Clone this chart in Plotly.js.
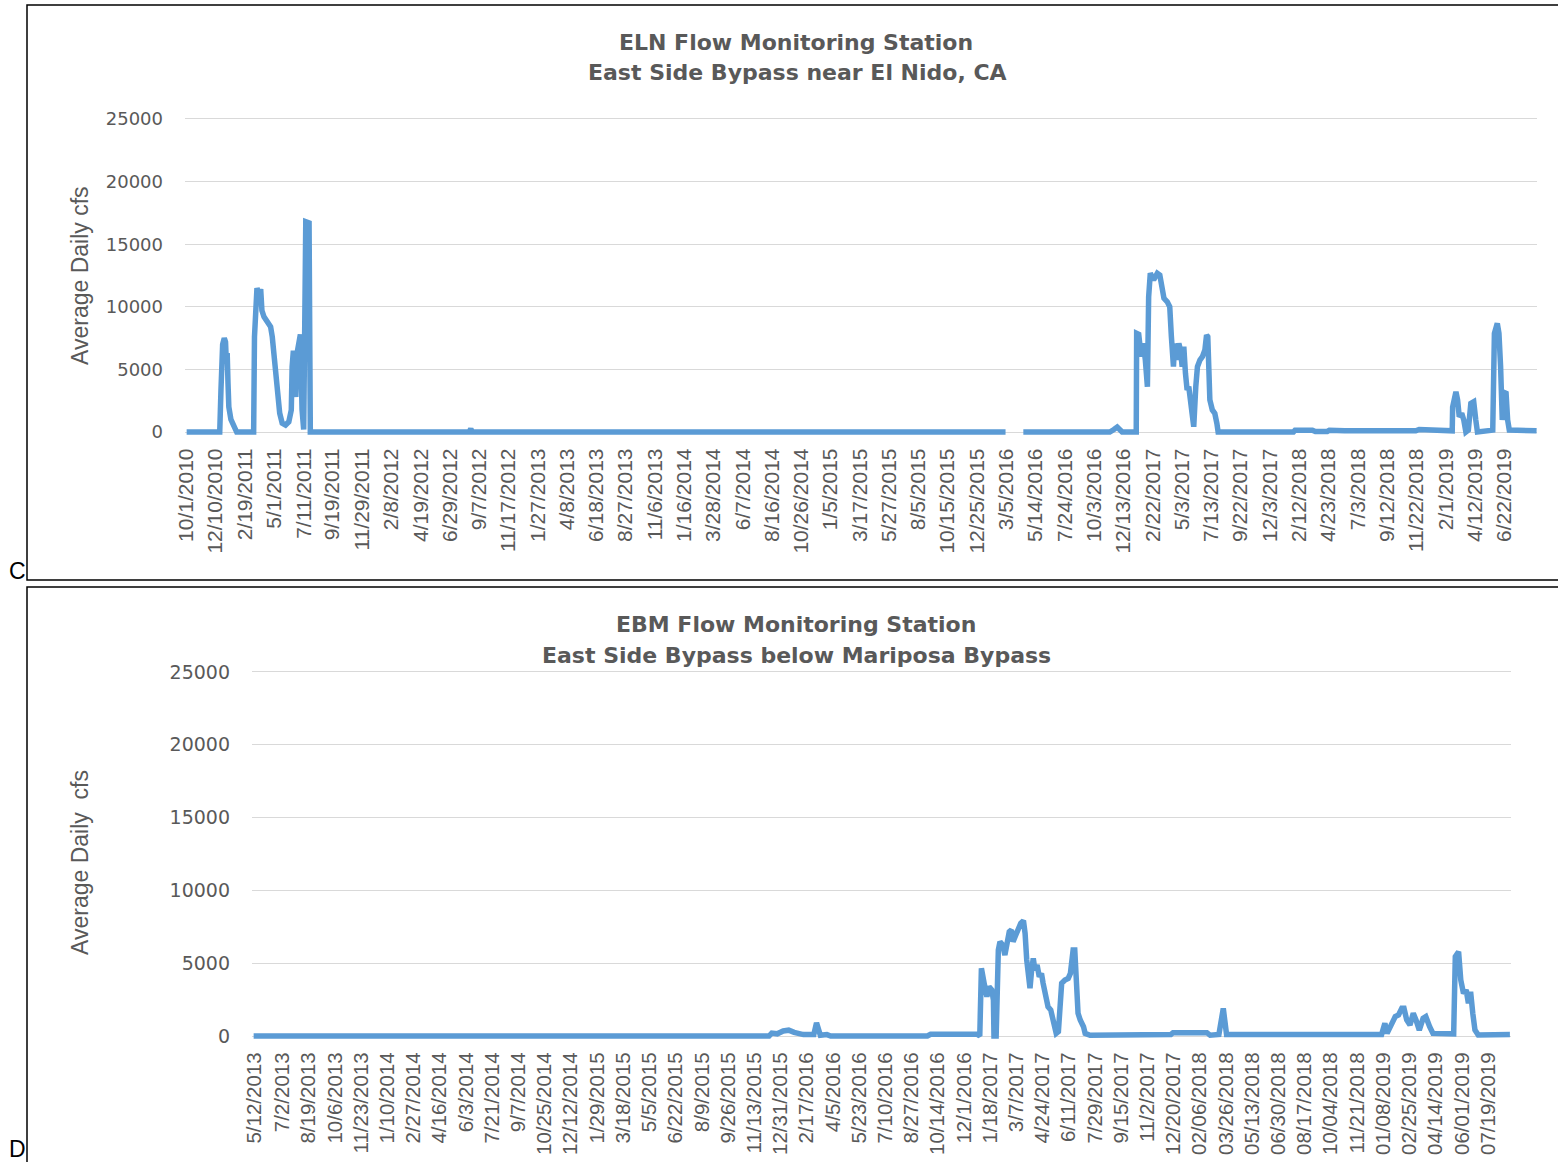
<!DOCTYPE html>
<html>
<head>
<meta charset="utf-8">
<script src="https://cdn.plot.ly/plotly-3.0.1.min.js"></script>
<style>html,body{margin:0;padding:0;background:#fff;}#chart{width:1558px;height:1162px;}</style>
</head>
<body>
<div id="chart"></div>
<script>
// ---------- ELN (top) ----------
const elnDates = [
 "2010-10-01","2010-12-20","2010-12-23","2010-12-27","2010-12-31","2011-01-03","2011-01-05","2011-01-07","2011-01-09","2011-01-11","2011-01-16","2011-01-25","2011-01-30",
 "2011-03-12","2011-03-14","2011-03-20","2011-03-24","2011-03-29","2011-04-01","2011-04-06","2011-04-14","2011-04-22","2011-04-26","2011-04-30","2011-05-04","2011-05-08","2011-05-14","2011-05-20","2011-05-28","2011-06-05","2011-06-11","2011-06-13","2011-06-16","2011-06-19","2011-06-22","2011-06-25","2011-06-29","2011-07-03","2011-07-07","2011-07-11","2011-07-16","2011-07-24","2011-07-27",
 "2012-08-14","2012-08-18","2012-08-22",
 "2016-03-03","2016-03-20","2016-04-15",
 "2016-11-10","2016-11-20","2016-11-28","2016-12-10",
 "2017-01-13","2017-01-14","2017-01-19","2017-01-25","2017-01-30","2017-02-04","2017-02-09","2017-02-12","2017-02-16","2017-02-24","2017-03-05","2017-03-11","2017-03-17","2017-03-21","2017-03-29","2017-04-04","2017-04-08","2017-04-13","2017-04-16","2017-04-21","2017-04-26","2017-04-30","2017-05-04","2017-05-08","2017-05-12","2017-05-16","2017-05-20","2017-05-24","2017-05-29","2017-06-01","2017-06-06","2017-06-10","2017-06-16","2017-06-22","2017-06-28","2017-07-02","2017-07-05","2017-07-08","2017-07-10","2017-07-16","2017-07-22","2017-07-27","2017-07-30",
 "2018-01-28","2018-02-01","2018-03-15","2018-03-22","2018-04-20","2018-04-25","2018-06-01","2018-09-10","2018-09-15","2018-11-20","2018-11-28","2019-01-20",
 "2019-02-16","2019-02-17","2019-02-25","2019-03-01","2019-03-05","2019-03-11","2019-03-16","2019-03-21","2019-03-27","2019-04-02","2019-04-09","2019-04-14","2019-04-18",
 "2019-05-25","2019-05-29","2019-06-05","2019-06-09","2019-06-13","2019-06-17","2019-06-21","2019-06-26","2019-06-30","2019-07-04","2019-09-08"
];
const elnValues = [
 0,0,3400,7000,7500,7200,5500,6300,3900,2000,1000,400,0,
 0,7600,11500,11000,11400,9700,9200,8800,8400,7600,6300,4700,2800,1500,700,560,820,1760,5200,6500,3900,2800,6300,7400,7800,1800,200,16800,16700,0,
 0,250,0,
 0,null,0,
 0,200,400,0,
 0,7880,7800,6020,7080,5750,3620,10800,12680,12140,12680,12540,11080,10680,10400,10010,7610,5220,7080,5750,7080,6550,5220,6810,4690,3350,3620,2560,1490,420,3620,5220,5750,6020,6550,7750,7610,4950,2560,1760,1490,690,0,
 0,150,150,50,50,150,100,80,150,100,200,100,
 100,2000,3220,2560,1220,1490,960,0,160,2290,2420,960,0,
 150,7880,8680,7880,5220,960,3090,3220,960,160,100
];
const elnTickLabels = ["10/1/2010","12/10/2010","2/19/2011","5/1/2011","7/11/2011","9/19/2011","11/29/2011","2/8/2012","4/19/2012","6/29/2012","9/7/2012","11/17/2012","1/27/2013","4/8/2013","6/18/2013","8/27/2013","11/6/2013","1/16/2014","3/28/2014","6/7/2014","8/16/2014","10/26/2014","1/5/2015","3/17/2015","5/27/2015","8/5/2015","10/15/2015","12/25/2015","3/5/2016","5/14/2016","7/24/2016","10/3/2016","12/13/2016","2/22/2017","5/3/2017","7/13/2017","9/22/2017","12/3/2017","2/12/2018","4/23/2018","7/3/2018","9/12/2018","11/22/2018","2/1/2019","4/12/2019","6/22/2019"];

// ---------- EBM (bottom) ----------
const ebmDates = [
 "2013-05-10","2015-12-10","2015-12-15","2015-12-25","2016-01-05","2016-01-15","2016-01-25","2016-02-11","2016-03-01","2016-03-06","2016-03-13","2016-03-25","2016-04-01",
 "2016-09-25","2016-10-01","2016-12-25","2016-12-30",
 "2017-01-02","2017-01-07","2017-01-12","2017-01-16","2017-01-21","2017-01-24","2017-01-25","2017-01-29","2017-01-30","2017-02-02","2017-02-05","2017-02-10","2017-02-14","2017-02-18","2017-02-22","2017-02-26","2017-03-01","2017-03-06","2017-03-10","2017-03-15","2017-03-20","2017-03-23","2017-03-26","2017-03-29","2017-04-01","2017-04-04","2017-04-07","2017-04-10","2017-04-14","2017-04-18","2017-04-22","2017-04-25","2017-04-30","2017-05-04","2017-05-09","2017-05-14","2017-05-19","2017-05-23","2017-05-26","2017-05-29","2017-06-04","2017-06-10","2017-06-14","2017-06-19","2017-06-22","2017-06-25","2017-06-28","2017-07-02","2017-07-08","2017-07-11","2017-07-20",
 "2017-12-15","2017-12-19","2018-02-19","2018-02-25","2018-03-13","2018-03-17","2018-03-21","2018-03-24","2018-03-27",
 "2019-01-05","2019-01-11","2019-01-15","2019-01-30","2019-02-05","2019-02-11","2019-02-15","2019-02-20","2019-02-26","2019-03-04","2019-03-09","2019-03-15","2019-03-22","2019-03-27","2019-04-03","2019-04-09",
 "2019-05-17","2019-05-20","2019-05-26","2019-05-30","2019-06-04","2019-06-09","2019-06-13","2019-06-17","2019-06-21","2019-06-25","2019-07-01","2019-08-28"
];
const ebmValues = [
 0,0,200,150,350,400,250,100,100,900,50,100,0,
 0,120,120,0,
 4650,3620,2700,3390,3160,2470,0,0,2930,5910,6480,6250,5560,6590,7160,7280,6480,6940,7400,7740,7920,7050,5220,3620,3280,4530,5340,4530,4880,4070,4300,3620,2700,2010,1790,870,180,300,2930,3620,3850,3960,4300,5910,5910,3390,1560,1100,640,180,50,
 100,230,230,50,100,1200,1900,1000,100,
 100,870,180,1330,1440,1900,1900,1100,760,1560,1100,410,1210,1330,640,180,
 150,5450,5790,3850,2930,3160,2250,3040,1560,410,70,100
];
const ebmTickLabels = ["5/12/2013","7/2/2013","8/19/2013","10/6/2013","11/23/2013","1/10/2014","2/27/2014","4/16/2014","6/3/2014","7/21/2014","9/7/2014","10/25/2014","12/12/2014","1/29/2015","3/18/2015","5/5/2015","6/22/2015","8/9/2015","9/26/2015","11/13/2015","12/31/2015","2/17/2016","4/5/2016","5/23/2016","7/10/2016","8/27/2016","10/14/2016","12/1/2016","1/18/2017","3/7/2017","4/24/2017","6/11/2017","7/29/2017","9/15/2017","11/2/2017","12/20/2017","02/06/2018","03/26/2018","05/13/2018","06/30/2018","08/17/2018","10/04/2018","11/21/2018","01/08/2019","02/25/2019","04/14/2019","06/01/2019","07/19/2019"];

const yTicks = [0,5000,10000,15000,20000,25000];

function toISO(s){ const p=s.split('/'); return p[2]+'-'+p[0].padStart(2,'0')+'-'+p[1].padStart(2,'0'); }

const W=1558, H=1162;
const px=x=>x/W, py=y=>1-y/H;
const gray='#595959', blue='#5B9BD5';

const traces = [
 {x:elnDates, y:elnValues, xaxis:'x', yaxis:'y', type:'scatter', mode:'lines', connectgaps:false,
  line:{color:blue, width:5.5}, hoverinfo:'skip'},
 {x:ebmDates, y:ebmValues, xaxis:'x2', yaxis:'y2', type:'scatter', mode:'lines', connectgaps:false,
  line:{color:blue, width:5.5}, hoverinfo:'skip'}
];

const xCommon = {type:'date', showgrid:false, showline:false, zeroline:false, ticks:'', tickangle:-90};
const yCommon = {tickvals:yTicks, ticktext:yTicks.map(String), showgrid:true, gridcolor:'#D9D9D9', gridwidth:1,
  zeroline:false, showline:false, ticks:'', ticklabelstandoff:21};

const layout = {
 width:W, height:H, margin:{l:0,r:0,t:0,b:0}, paper_bgcolor:'#fff', plot_bgcolor:'#fff', showlegend:false,
 xaxis: Object.assign({}, xCommon, {domain:[px(185),px(1537)], anchor:'y', range:['2010-09-27','2019-09-09'],
   tickvals:elnTickLabels.map(toISO), ticktext:elnTickLabels, ticklabelstandoff:5,
   tickfont:{family:'Liberation Sans, Arial, sans-serif', size:21, color:gray}}),
 yaxis: Object.assign({}, yCommon, {domain:[py(438.3),py(115.2)], anchor:'x', range:[-500,25300],
   tickfont:{family:'DejaVu Sans, sans-serif', size:18, color:gray}}),
 xaxis2: Object.assign({}, xCommon, {domain:[px(252),px(1511)], anchor:'y2', range:['2013-05-07','2019-08-30'],
   tickvals:ebmTickLabels.map(toISO), ticktext:ebmTickLabels, ticklabelstandoff:4,
   tickfont:{family:'Liberation Sans, Arial, sans-serif', size:20.5, color:gray}}),
 yaxis2: Object.assign({}, yCommon, {domain:[py(1043.3),py(667.6)], anchor:'x2', range:[-500,25300],
   tickfont:{family:'DejaVu Sans, sans-serif', size:19, color:gray}}),
 annotations: [
  {text:'ELN Flow Monitoring Station', x:px(796), y:py(42)},
  {text:'East Side Bypass near El Nido, CA', x:px(797), y:py(73)},
  {text:'EBM Flow Monitoring Station', x:px(796), y:py(624)},
  {text:'East Side Bypass below Mariposa Bypass', x:px(796), y:py(655)}
 ].map(a=>Object.assign({xref:'paper', yref:'paper', xanchor:'center', yanchor:'middle', showarrow:false,
   font:{family:'DejaVu Sans, sans-serif', size:22, color:gray, weight:'bold'}}, a)).concat([
  {text:'Average Daily cfs', x:px(80), y:py(276), textangle:-90},
  {text:'Average Daily\u00A0 cfs', x:px(80), y:py(863), textangle:-90}
 ].map(a=>Object.assign({xref:'paper', yref:'paper', xanchor:'center', yanchor:'middle', showarrow:false,
   font:{family:'Liberation Sans, Arial, sans-serif', size:23, color:gray}}, a))).concat([
  {text:'C', x:px(17), y:py(571)},
  {text:'D', x:px(17), y:py(1149)}
 ].map(a=>Object.assign({xref:'paper', yref:'paper', xanchor:'center', yanchor:'middle', showarrow:false,
   font:{family:'Liberation Sans, Arial, sans-serif', size:23, color:'#000'}}, a))),
 shapes: [
  {type:'rect', xref:'paper', yref:'paper', x0:px(27), x1:1.02, y0:py(580), y1:py(5), line:{color:'#000', width:1.5}},
  {type:'rect', xref:'paper', yref:'paper', x0:px(27), x1:1.02, y0:-0.02, y1:py(587), line:{color:'#000', width:1.5}}
 ]
};

Plotly.newPlot('chart', traces, layout, {displayModeBar:false, staticPlot:true});
</script>
</body>
</html>
